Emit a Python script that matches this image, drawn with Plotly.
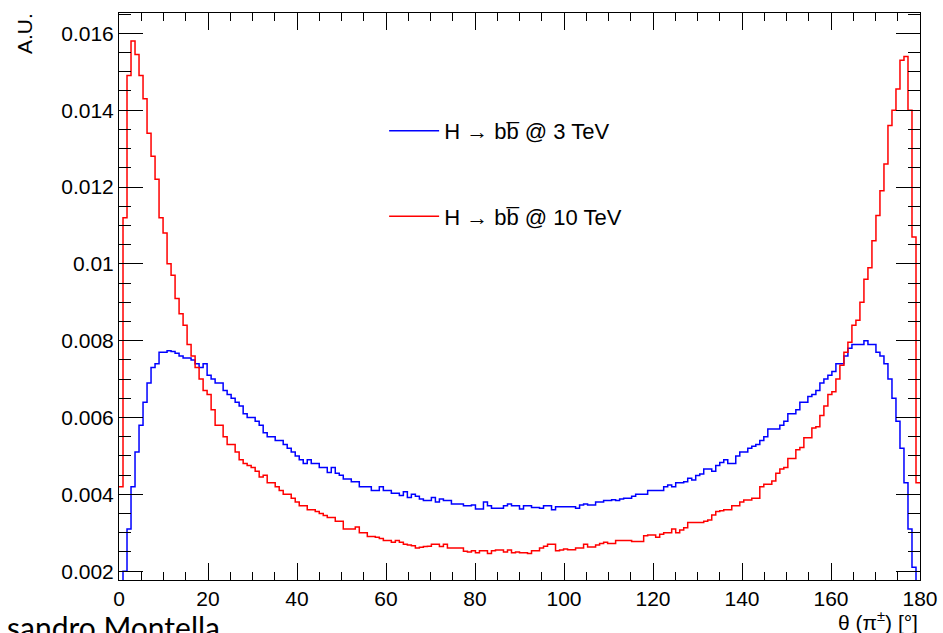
import numpy as np
import plotly.graph_objects as go

# theta bin edges: 200 bins from 0 to 180 degrees
bin_lo = 0.0
bin_hi = 180.0
n_bins = 200

# H -> bb @ 10 TeV (red), per-bin values
red_10tev = [
    0.0042, 0.0112, 0.0149, 0.0158, 0.01545, 0.0149, 0.0143, 0.0134, 0.0128, 0.0122,
    0.0112, 0.0108, 0.0100, 0.0097, 0.0091, 0.0087, 0.0084, 0.0079, 0.0076, 0.0073,
    0.0070, 0.0067, 0.0066, 0.0062, 0.0058, 0.0058, 0.0055, 0.0053, 0.0053, 0.0051,
    0.0049, 0.0048, 0.00475, 0.0047, 0.0046, 0.00445, 0.0045, 0.0043, 0.0043, 0.0042,
    0.0041, 0.0040, 0.0040, 0.0039, 0.0038, 0.0037, 0.0037, 0.0036, 0.0036, 0.00355,
    0.0035, 0.00345, 0.0034, 0.0034, 0.0033, 0.0033, 0.0031, 0.0031, 0.0031, 0.00315,
    0.0030, 0.0030, 0.0029, 0.0029, 0.00288, 0.00285, 0.0028, 0.0028, 0.00275, 0.0028,
    0.00275, 0.0027, 0.00268, 0.00266, 0.0026, 0.00262, 0.00264, 0.00265, 0.0027, 0.0027,
    0.00264, 0.0027, 0.0026, 0.0026, 0.0026, 0.0026, 0.00252, 0.0025, 0.00253, 0.00248,
    0.00253, 0.00253, 0.00246, 0.00253, 0.00255, 0.00255, 0.0025, 0.00255, 0.00248, 0.0025,
    0.00248, 0.00248, 0.00246, 0.00253, 0.00253, 0.0026, 0.00265, 0.0027, 0.0027, 0.00253,
    0.00255, 0.00258, 0.00256, 0.00256, 0.0026, 0.0026, 0.0027, 0.00263, 0.00263, 0.00268,
    0.00272, 0.00275, 0.00272, 0.00272, 0.0028, 0.0028, 0.0028, 0.0028, 0.00277, 0.00277,
    0.00277, 0.00292, 0.00294, 0.00294, 0.00288, 0.00296, 0.0030, 0.0030, 0.0031, 0.0030,
    0.00307, 0.00313, 0.00327, 0.00327, 0.00327, 0.00327, 0.0033, 0.00333, 0.00346, 0.00355,
    0.00357, 0.0036, 0.0036, 0.0037, 0.0037, 0.0038, 0.00385, 0.00385, 0.0039, 0.0039,
    0.0042, 0.00426, 0.00426, 0.00435, 0.00455, 0.00466, 0.0047, 0.00493, 0.00493, 0.00516,
    0.00522, 0.00547, 0.00547, 0.00573, 0.00576, 0.00605, 0.0063, 0.0066, 0.00667, 0.0070,
    0.00736, 0.0077, 0.00796, 0.0084, 0.00853, 0.0090, 0.0096, 0.0099, 0.0106, 0.01126,
    0.0119, 0.0126, 0.0136, 0.0140, 0.01455, 0.0153, 0.0154, 0.0140, 0.0107, 0.0043,
]

# H -> bb @ 3 TeV (blue), per-bin values
blue_3tev = [
    0.0015, 0.0020, 0.0031, 0.0042, 0.0051, 0.0058, 0.0064, 0.0069, 0.0073, 0.0074,
    0.0077, 0.0077, 0.00774, 0.00772, 0.00767, 0.0076, 0.00755, 0.00755, 0.0075, 0.0074,
    0.0073, 0.0074, 0.0071, 0.0070, 0.0069, 0.0069, 0.0067, 0.0066, 0.0065, 0.0064,
    0.0063, 0.0061, 0.0060, 0.0060, 0.0059, 0.0058, 0.0056, 0.0055, 0.0055, 0.0054,
    0.0054, 0.0053, 0.0052, 0.0051, 0.0050, 0.0049, 0.0048, 0.0049, 0.0048, 0.0048,
    0.0047, 0.0047, 0.00457, 0.0047, 0.00455, 0.0045, 0.0044, 0.0044, 0.00433, 0.00433,
    0.0042, 0.0042, 0.0042, 0.0041, 0.0041, 0.0042, 0.0041, 0.0041, 0.00403, 0.00403,
    0.00397, 0.00407, 0.00392, 0.0040, 0.00395, 0.00388, 0.00384, 0.00384, 0.00392, 0.0038,
    0.00388, 0.00384, 0.00384, 0.00375, 0.00375, 0.00375, 0.0037, 0.0037, 0.00372, 0.00362,
    0.00362, 0.0038, 0.0037, 0.00364, 0.00364, 0.00364, 0.0037, 0.00375, 0.0037, 0.0037,
    0.00362, 0.0037, 0.0037, 0.00366, 0.00366, 0.00364, 0.0037, 0.0037, 0.0036, 0.00368,
    0.00368, 0.00368, 0.00368, 0.00368, 0.00364, 0.00372, 0.00375, 0.00372, 0.00372, 0.0038,
    0.0038, 0.00384, 0.00384, 0.00386, 0.00384, 0.00388, 0.0039, 0.0039, 0.00395, 0.0040,
    0.0040, 0.0040, 0.0041, 0.0041, 0.0041, 0.0041, 0.0042, 0.00424, 0.0042, 0.0043,
    0.0043, 0.00433, 0.00442, 0.00437, 0.00449, 0.00453, 0.00466, 0.00466, 0.0046, 0.00475,
    0.00483, 0.0049, 0.0048, 0.0048, 0.0050, 0.0051, 0.0051, 0.0052, 0.00525, 0.0053,
    0.0054, 0.0055, 0.0057, 0.0057, 0.0057, 0.0058, 0.0059, 0.0061, 0.0061, 0.0062,
    0.0064, 0.0064, 0.00655, 0.0066, 0.0067, 0.0069, 0.0070, 0.0071, 0.0072, 0.0074,
    0.0074, 0.0076, 0.0078, 0.0079, 0.0079, 0.0079, 0.0080, 0.0079, 0.0079, 0.0077,
    0.0076, 0.0074, 0.0070, 0.0065, 0.0059, 0.0052, 0.0043, 0.0031, 0.0021, 0.0015,
]

series_names = ["H → bb\u0305 @ 3 TeV", "H → bb\u0305 @ 10 TeV"]
series_colors = ["#0000ff", "#ff0000"]

y_tickvals = [0.002, 0.004, 0.006, 0.008, 0.010, 0.012, 0.014, 0.016]
y_ticktext = ["0.002", "0.004", "0.006", "0.008", "0.01", "0.012", "0.014", "0.016"]
x_tickvals = [0, 20, 40, 60, 80, 100, 120, 140, 160, 180]

edges = np.linspace(bin_lo, bin_hi, n_bins + 1)

fig = go.Figure()
for name, col, vals, grp in zip(series_names, series_colors, [blue_3tev, red_10tev], ["g1", "g2"]):
    yv = list(vals) + [vals[-1]]
    fig.add_trace(go.Scatter(
        x=edges, y=yv, mode="lines", line=dict(color=col, width=1.5, shape="hv"),
        name=name, legendgroup=grp,
    ))

font_main = "Liberation Sans, Arial, Helvetica, sans-serif"

fig.update_layout(
    width=943, height=633,
    margin=dict(l=119, r=23, t=13, b=53, autoexpand=False),
    plot_bgcolor="white", paper_bgcolor="white",
    font=dict(family=font_main, size=21, color="black"),
    showlegend=True,
    legend=dict(
        x=0.331, y=0.829, xanchor="left", yanchor="top",
        bgcolor="rgba(0,0,0,0)", borderwidth=0,
        font=dict(family=font_main, size=22, color="black"),
        tracegroupgap=54, traceorder="grouped", itemwidth=50,
    ),
    xaxis=dict(
        range=[bin_lo, bin_hi], tickmode="array", tickvals=x_tickvals,
        ticks="inside", ticklen=17, tickwidth=1, tickcolor="black",
        showline=True, linecolor="black", linewidth=1, mirror="allticks",
        showgrid=False, zeroline=False, automargin=False,
        minor=dict(ticks="inside", ticklen=8, dtick=5, tick0=0, tickcolor="black", tickwidth=1, showgrid=False),
        tickfont=dict(family=font_main, size=21, color="black"),
    ),
    yaxis=dict(
        range=[0.00177, 0.01653], tickmode="array", tickvals=y_tickvals, ticktext=y_ticktext,
        ticks="inside", ticklen=24, tickwidth=1, tickcolor="black",
        showline=True, linecolor="black", linewidth=1, mirror="allticks",
        showgrid=False, zeroline=False, automargin=False,
        minor=dict(ticks="inside", ticklen=12, dtick=0.0005, tick0=0, tickcolor="black", tickwidth=1, showgrid=False),
        tickfont=dict(family=font_main, size=21, color="black"),
    ),
)

fig.add_annotation(
    text="θ (π<sup>±</sup>) [°]", xref="paper", yref="paper",
    x=1.0, y=-0.045, xanchor="right", yanchor="top", showarrow=False,
    font=dict(family=font_main, size=21, color="black"),
)
fig.add_annotation(
    text="A.U.", xref="paper", yref="paper", textangle=-90,
    x=-0.117, y=1.003, xanchor="center", yanchor="top", showarrow=False,
    font=dict(family=font_main, size=21, color="black"),
)
fig.add_annotation(
    text="sandro Montella", xref="paper", yref="paper",
    x=-0.1423, y=-0.047, xanchor="left", yanchor="top", showarrow=False,
    font=dict(family="Lato, Open Sans, sans-serif", size=30, color="black"),
)

fig.write_html(
    "out.html",
    config={"displayModeBar": False},
    post_script="document.body.style.margin='0';document.body.style.overflow='hidden';",
)
